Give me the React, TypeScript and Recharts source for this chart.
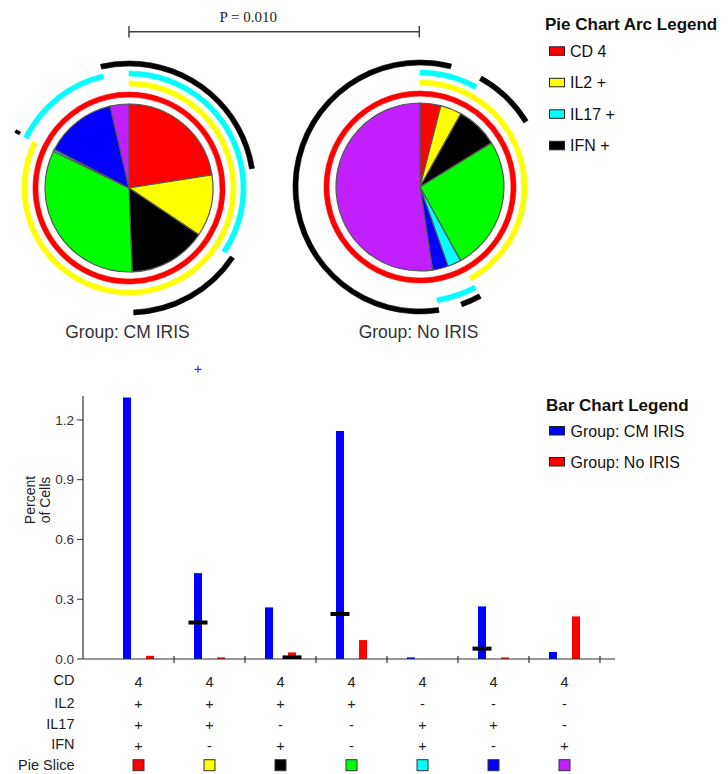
import React from "react";
import { PieChart, Pie, Cell, ComposedChart, Bar, Scatter, XAxis, YAxis, ReferenceDot } from "recharts";

const SANS = '"Liberation Sans", Arial, Helvetica, sans-serif';
const SERIF = '"Liberation Serif", "Times New Roman", serif';

// one column per pie slice / bar category
const SLICE_COLORS = ["#ff0000", "#ffff00", "#000000", "#00ff00", "#00ffff", "#0000ff", "#c21fff"];
const CD4_ROW = ["4", "4", "4", "4", "4", "4", "4"];
const IL2_ROW = ["+", "+", "+", "+", "-", "-", "-"];
const IL17_ROW = ["+", "+", "-", "-", "+", "+", "-"];
const IFN_ROW = ["+", "-", "+", "-", "+", "-", "+"];
const ROW_LABELS = ["CD", "IL2", "IL17", "IFN", "Pie Slice"];

const GROUPS = ["Group: CM IRIS", "Group: No IRIS"];
const GROUP_COLORS = ["#0000ff", "#ff0000"];

// pie slices (percent of the total)
const CM_IRIS_PIE = [22.5, 11.9, 15.0, 32.8, 0.4, 13.8, 3.6];
const NO_IRIS_PIE = [4.0, 4.1, 8.1, 25.8, 2.6, 3.0, 52.4];

// bars, medians and outliers (percent of cells)
const CM_IRIS_BARS = [1.313, 0.431, 0.259, 1.144, 0.008, 0.264, 0.035];
const NO_IRIS_BARS = [0.016, 0.008, 0.033, 0.095, 0, 0.008, 0.214];
const CM_IRIS_MEDIANS = [null, 0.183, null, 0.226, null, 0.052, null];
const NO_IRIS_MEDIANS = [null, null, 0.008, null, null, null, null];
const CM_IRIS_OUTLIERS = [null, 1.454, null, null, null, null, null];
const Y_TICKS = [0, 0.3, 0.6, 0.9, 1.2];

const ARC_LABELS = ["CD 4", "IL2 +", "IL17 +", "IFN +"];
const ARC_COLORS = ["#ff0000", "#ffff00", "#00ffff", "#000000"];
const P_VALUE = "P = 0.010";

const ARC_ROWS = [CD4_ROW, IL2_ROW, IL17_ROW, IFN_ROW];
const CATEGORIES = SLICE_COLORS.map((_, i) => ARC_ROWS.map((r) => r[i]).join(""));

const BAR_DATA = CATEGORIES.map((name, i) => ({
  name,
  cm: CM_IRIS_BARS[i],
  no: NO_IRIS_BARS[i],
  cmMed: CM_IRIS_MEDIANS[i],
  noMed: NO_IRIS_MEDIANS[i],
  cmOut: CM_IRIS_OUTLIERS[i],
}));

const PIES = [
  { values: CM_IRIS_PIE, cx: 129, cy: 188, label: GROUPS[0] },
  { values: NO_IRIS_PIE, cx: 420, cy: 187, label: GROUPS[1] },
];
const RING_RADII = [
  [91, 96],
  [102, 107],
  [112, 117],
  [122, 127],
];

const sliceData = (values: number[]) => values.map((v, i) => ({ name: CATEGORIES[i], value: v }));

const BAR_OFFSET = 11.5;
const HALF_BAND = 35.5;
const ROW_BASE = [26, 48.5, 69.5, 90, 110.5];

function TableTick(props: any) {
  const { x, y, index } = props;
  return (
    <g fontFamily={SANS} fontSize={14.5} fill="#222">
      <line x1={x + HALF_BAND} x2={x + HALF_BAND} y1={y - 3} y2={y + 4} stroke="#333" strokeWidth={1.2} />
      {ARC_ROWS.map((row, r) => (
        <text key={r} x={x} y={y + ROW_BASE[r] + 1.5} textAnchor="middle">
          {row[index]}
        </text>
      ))}
      <rect x={x - 5.5} y={y + 100.7} width={11} height={11} fill={SLICE_COLORS[index]} stroke="#333" />
      {index === 0 &&
        ROW_LABELS.map((l, r) => (
          <text key={l} x={x - 64} y={y + ROW_BASE[r]} textAnchor="end">
            {l}
          </text>
        ))}
    </g>
  );
}

function YLabel() {
  return (
    <g fontFamily={SANS} fontSize={14} fill="#222">
      <text transform="rotate(-90)" x={-160} y={35} textAnchor="middle">
        Percent
      </text>
      <text transform="rotate(-90)" x={-160} y={50} textAnchor="middle">
        of Cells
      </text>
    </g>
  );
}

const medianShape = (offset: number, key: string) => (p: any) => {
  const { cx, cy, payload } = p;
  if (!payload || payload[key] == null || !Number.isFinite(cx) || !Number.isFinite(cy)) return <g />;
  return <rect x={cx + offset - 9.5} y={cy - 2} width={19} height={4} fill="#000" />;
};

const plusShape = (p: any) => {
  const x = p.cx - BAR_OFFSET;
  const y = p.cy;
  return <path d={`M${x - 3.5},${y}H${x + 3.5}M${x},${y - 3.5}V${y + 3.5}`} stroke="#3333ff" strokeWidth={1.2} />;
};

export default function App() {
  return (
    <div style={{ position: "absolute", left: 0, top: 0, width: 728, height: 774, background: "#fff" }}>
      <div style={{ position: "absolute", left: 0, top: 0 }}>
        <PieChart width={728} height={345} margin={{ top: 0, right: 0, bottom: 0, left: 0 }}>
          {PIES.map((p, g) => [
            <Pie
              key={`slices-${g}`}
              data={sliceData(p.values)}
              dataKey="value"
              cx={p.cx}
              cy={p.cy}
              outerRadius={84}
              startAngle={90}
              endAngle={-270}
              stroke="#555"
              strokeWidth={1.2}
              isAnimationActive={false}
            >
              {p.values.map((_, i) => (
                <Cell key={i} fill={SLICE_COLORS[i]} />
              ))}
            </Pie>,
            ...ARC_ROWS.map((row, r) => (
              <Pie
                key={`ring-${g}-${r}`}
                data={sliceData(p.values)}
                dataKey="value"
                cx={p.cx}
                cy={p.cy}
                innerRadius={RING_RADII[r][0]}
                outerRadius={RING_RADII[r][1]}
                startAngle={90}
                endAngle={-270}
                stroke="none"
                isAnimationActive={false}
              >
                {row.map((m, i) => {
                  const on = m !== "-";
                  return (
                    <Cell
                      key={i}
                      fill={on ? ARC_COLORS[r] : "#ffffff"}
                      fillOpacity={on ? 1 : 0}
                      stroke={on ? ARC_COLORS[r] : "none"}
                      strokeWidth={on ? 0.6 : 0}
                    />
                  );
                })}
              </Pie>
            )),
          ])}
        </PieChart>
      </div>

      <div style={{ position: "absolute", left: 0, top: 340 }}>
        <ComposedChart
          width={728}
          height={434}
          data={BAR_DATA}
          margin={{ top: 56, right: 113, bottom: 0, left: 23 }}
          barGap={15}
        >
          <XAxis
            dataKey="name"
            interval={0}
            padding={{ left: 20, right: 15 }}
            height={115}
            tickSize={0}
            tickMargin={0}
            tickLine={false}
            axisLine={{ stroke: "#333", strokeWidth: 1.2 }}
            tick={(props: any) => <TableTick {...props} />}
          />
          <YAxis
            width={60}
            domain={[0, 1.32]}
            allowDataOverflow
            ticks={Y_TICKS}
            interval={0}
            tickFormatter={(v: number) => v.toFixed(1)}
            tickSize={6}
            tickMargin={3}
            axisLine={{ stroke: "#333", strokeWidth: 1.2 }}
            tickLine={{ stroke: "#333" }}
            tick={{ fill: "#333", fontSize: 13.5, fontFamily: SANS }}
            label={<YLabel />}
          />
          <Bar dataKey="cm" fill={GROUP_COLORS[0]} barSize={8} isAnimationActive={false} />
          <Bar dataKey="no" fill={GROUP_COLORS[1]} barSize={8} isAnimationActive={false} />
          <Scatter dataKey="cmMed" shape={medianShape(-BAR_OFFSET, "cmMed")} isAnimationActive={false} />
          <Scatter dataKey="noMed" shape={medianShape(BAR_OFFSET, "noMed")} isAnimationActive={false} />
          {BAR_DATA.filter((d) => d.cmOut != null).map((d) => (
            <ReferenceDot key={d.name} x={d.name} y={d.cmOut as number} ifOverflow="visible" shape={plusShape} />
          ))}
        </ComposedChart>
      </div>

      <svg width={728} height={774} style={{ position: "absolute", left: 0, top: 0, pointerEvents: "none" }}>
        {/* p-value bracket between the two pies */}
        <g stroke="#444" strokeWidth={1.5}>
          <line x1={PIES[0].cx} x2={PIES[1].cx - 0.7} y1={31.7} y2={31.7} />
          <line x1={PIES[0].cx} x2={PIES[0].cx} y1={26} y2={37.5} />
          <line x1={PIES[1].cx - 0.7} x2={PIES[1].cx - 0.7} y1={26} y2={37.5} />
        </g>
        <text x={219.5} y={21.7} fontFamily={SERIF} fontSize={15} fill="#222">
          {P_VALUE}
        </text>
        {PIES.map((p, g) => (
          <text key={g} x={p.cx - 1.5} y={338.3} textAnchor="middle" fontFamily={SANS} fontSize={17.5} fill="#333">
            {p.label}
          </text>
        ))}

        <g fontFamily={SANS} fill="#111">
          <text x={545} y={29.5} fontSize={17} fontWeight="bold">
            Pie Chart Arc Legend
          </text>
          {ARC_LABELS.map((l, i) => (
            <g key={l}>
              <rect x={549.5} y={46.8 + i * 31.5} width={15} height={8.5} fill={ARC_COLORS[i]} stroke="#222" />
              <text x={570} y={56.8 + i * 31.5} fontSize={16}>
                {l}
              </text>
            </g>
          ))}
          <text x={546} y={410.5} fontSize={17} fontWeight="bold">
            Bar Chart Legend
          </text>
          {GROUPS.map((l, i) => (
            <g key={l}>
              <rect x={549.5} y={426.5 + i * 31} width={15} height={8.5} fill={GROUP_COLORS[i]} stroke="#222" />
              <text x={570.5} y={436.5 + i * 31} fontSize={16}>
                {l}
              </text>
            </g>
          ))}
        </g>
      </svg>
    </div>
  );
}
